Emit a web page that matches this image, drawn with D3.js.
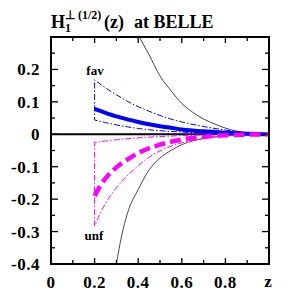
<!DOCTYPE html>
<html>
<head>
<meta charset="utf-8">
<script src="https://cdn.jsdelivr.net/npm/d3@7"></script>
<style>
  body { margin: 0; background: #fff; }
  text { font-family: "Liberation Serif", "Times New Roman", serif; font-weight: bold; }
</style>
</head>
<body>
<script>
// data: [z, value]
var blackUpper = [[0.38,0.345],[0.4,0.31],[0.45,0.245],[0.5,0.18],[0.55,0.135],[0.6,0.095],[0.65,0.068],
                  [0.7,0.047],[0.75,0.032],[0.8,0.019],[0.85,0.01],[0.9,0.004],[0.95,0.001],[1.0,0]];
var blackLower = [[0.29,-0.44],[0.3,-0.40],[0.325,-0.31],[0.35,-0.245],[0.4,-0.17],[0.45,-0.11],[0.5,-0.073],
                  [0.55,-0.05],[0.6,-0.032],[0.7,-0.013],[0.8,-0.005],[0.9,-0.001],[1.0,0]];
var favCentral = [[0.2,0.078],[0.25,0.066],[0.3,0.055],[0.35,0.046],[0.4,0.038],[0.45,0.031],[0.5,0.025],
                  [0.55,0.02],[0.6,0.015],[0.7,0.009],[0.8,0.005],[0.9,0.002],[1.0,0]];
var favUpper = [[0.2,0.168],[0.25,0.143],[0.3,0.122],[0.35,0.102],[0.4,0.085],[0.45,0.071],[0.5,0.058],
                [0.55,0.047],[0.6,0.038],[0.7,0.024],[0.8,0.013],[0.9,0.005],[1.0,0]];
var favLower = [[0.2,0.044],[0.25,0.036],[0.3,0.029],[0.35,0.023],[0.4,0.018],[0.45,0.014],[0.5,0.011],
                [0.6,0.007],[0.7,0.004],[0.8,0.002],[0.9,0.001],[1.0,0]];
var unfCentral = [[0.2,-0.19],[0.225,-0.16],[0.25,-0.136],[0.3,-0.102],[0.35,-0.078],[0.4,-0.058],[0.45,-0.043],
                  [0.5,-0.032],[0.55,-0.023],[0.6,-0.016],[0.7,-0.008],[0.8,-0.003],[0.9,-0.001],[1.0,0]];
var unfUpper = [[0.2,-0.025],[0.3,-0.017],[0.4,-0.011],[0.5,-0.007],[0.6,-0.004],[0.7,-0.002],[0.8,-0.001],[1.0,0]];
var unfLower = [[0.2,-0.283],[0.225,-0.245],[0.25,-0.213],[0.3,-0.165],[0.35,-0.128],[0.4,-0.097],[0.45,-0.071],
                [0.5,-0.051],[0.55,-0.037],[0.6,-0.026],[0.7,-0.012],[0.8,-0.005],[0.9,-0.001],[1.0,0]];

var xMajor = [0, 0.2, 0.4, 0.6, 0.8],
    xMinor = [0.1, 0.3, 0.5, 0.7, 0.9],
    yMajor = [-0.4, -0.3, -0.2, -0.1, 0, 0.1, 0.2],
    yMinor = [-0.35, -0.25, -0.15, -0.05, 0.05, 0.15, 0.25];
var xLabels = ["0", "0.2", "0.4", "0.6", "0.8"],
    yLabels = ["-0.4", "-0.3", "-0.2", "-0.1", "0", "0.1", "0.2"];

var W = 291, H = 295;
var margin = {left: 51, right: 269, top: 37, bottom: 264};

var x = d3.scaleLinear().domain([0, 1]).range([margin.left, margin.right]);
var y = d3.scaleLinear().domain([-0.4, 0.3]).range([margin.bottom, margin.top]);

var svg = d3.select("body").append("svg")
    .attr("width", W)
    .attr("height", H);

svg.append("clipPath").attr("id", "plot")
  .append("rect")
    .attr("x", margin.left).attr("y", margin.top)
    .attr("width", margin.right - margin.left).attr("height", margin.bottom - margin.top);

var line = d3.line()
    .x(function(d) { return x(d[0]); })
    .y(function(d) { return y(d[1]); })
    .curve(d3.curveMonotoneX);

// closed band outline: one curve back to z=0.2, the vertical, then the other curve out to z=1
var band = function(a, b) {
  return line(a.slice().reverse()) + "L" + x(b[0][0]) + "," + y(b[0][1]) +
    line(b).replace(/^M[-\d.,e]*/, "");
};

var g = svg.append("g").attr("clip-path", "url(#plot)");

// zero line
g.append("line")
  .attr("x1", margin.left).attr("x2", margin.right)
  .attr("y1", y(0)).attr("y2", y(0))
  .attr("stroke", "#000").attr("stroke-width", 2);

// black thin curves
[blackUpper, blackLower].forEach(function(c) {
  g.append("path").attr("d", line(c))
    .attr("fill", "none").attr("stroke", "#333").attr("stroke-width", 0.9);
});

g.append("path").attr("d", band(favLower, favUpper))
  .attr("fill", "none").attr("stroke", "#0000ff").attr("stroke-width", 1)
  .attr("stroke-dasharray", "6,2,1.5,2");

g.append("path").attr("d", band(unfUpper, unfLower))
  .attr("fill", "none").attr("stroke", "#ff00ff").attr("stroke-width", 1)
  .attr("stroke-dasharray", "6,2,1.5,2");

// central curves
g.append("path").attr("d", line(favCentral))
  .attr("fill", "none").attr("stroke", "#0000ff").attr("stroke-width", 4);

g.append("path").attr("d", line(unfCentral))
  .attr("fill", "none").attr("stroke", "#ff00ff").attr("stroke-width", 4.5)
  .attr("stroke-dasharray", "11,5");

// ticks on all four sides, pointing inward
var ticks = svg.append("g").attr("stroke", "#000").attr("stroke-width", 1.3);
function xTicks(vals, len) {
  vals.forEach(function(v) {
    ticks.append("line").attr("x1", x(v)).attr("x2", x(v)).attr("y1", margin.bottom).attr("y2", margin.bottom - len);
    ticks.append("line").attr("x1", x(v)).attr("x2", x(v)).attr("y1", margin.top).attr("y2", margin.top + len);
  });
}
function yTicks(vals, len) {
  vals.forEach(function(v) {
    ticks.append("line").attr("y1", y(v)).attr("y2", y(v)).attr("x1", margin.left).attr("x2", margin.left + len);
    ticks.append("line").attr("y1", y(v)).attr("y2", y(v)).attr("x1", margin.right).attr("x2", margin.right - len);
  });
}
xTicks(xMajor, 6); xTicks(xMinor, 4);
yTicks(yMajor, 7); yTicks(yMinor, 4);

// frame
svg.append("rect")
  .attr("x", margin.left).attr("y", margin.top)
  .attr("width", margin.right - margin.left).attr("height", margin.bottom - margin.top)
  .attr("fill", "none").attr("stroke", "#000").attr("stroke-width", 2);

// tick labels
svg.selectAll(".xl").data(xMajor).enter().append("text")
  .attr("x", function(d) { return x(d); })
  .attr("y", 288)
  .attr("text-anchor", "middle")
  .style("font-size", "17px")
  .style("letter-spacing", "0.5px")
  .text(function(d, i) { return xLabels[i]; });

svg.selectAll(".yl").data(yMajor).enter().append("text")
  .attr("x", 40)
  .attr("y", function(d) { return y(d) + 6; })
  .attr("text-anchor", "end")
  .style("font-size", "17px")
  .style("letter-spacing", "0.5px")
  .text(function(d, i) { return yLabels[i]; });

svg.append("text").attr("x", 268).attr("y", 287)
  .attr("text-anchor", "middle").style("font-size", "17px").text("z");

// curve labels
svg.append("text").attr("x", 95).attr("y", 75)
  .attr("text-anchor", "middle").style("font-size", "13px").text("fav");
svg.append("text").attr("x", 94).attr("y", 240)
  .attr("text-anchor", "middle").style("font-size", "13px").text("unf");

// title
var title = svg.append("text").attr("x", 51).attr("y", 28).style("font-size", "18px");
title.append("tspan").text("H");
title.append("tspan").attr("dy", 4).style("font-size", "12px").text("1");
title.append("tspan").attr("dx", -6).attr("dy", -13).style("font-size", "12px").text("\u22a5 (1/2)");
title.append("tspan").attr("x", 104).attr("dy", 9).text("(z)");
title.append("tspan").attr("x", 134).text("at BELLE");
</script>
</body>
</html>
